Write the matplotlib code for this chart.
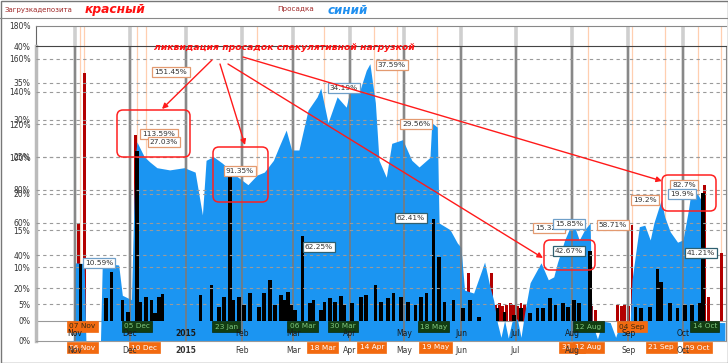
import matplotlib
matplotlib.use('Agg')
import matplotlib.pyplot as plt
import matplotlib.dates as mdates
from matplotlib.patches import FancyBboxPatch, Rectangle, FancyArrowPatch
from matplotlib.lines import Line2D
from matplotlib.transforms import Affine2D, blended_transform_factory
import datetime as dt

W, H = 728, 363

# ---------------- data ----------------
# drawdown (blue, inner scale 0-40 %)
dd_dates = ['2014-10-31', '2014-11-01', '2014-11-06', '2014-11-07', '2014-11-15', '2014-11-16',
            '2014-11-25', '2014-11-27', '2014-12-02', '2014-12-04', '2014-12-05', '2014-12-09',
            '2014-12-12', '2014-12-16', '2014-12-23', '2014-12-31', '2015-01-06', '2015-01-10',
            '2015-01-12', '2015-01-16', '2015-01-21', '2015-01-28', '2015-02-04', '2015-02-09',
            '2015-02-13', '2015-02-18', '2015-02-21', '2015-02-25', '2015-02-28', '2015-03-04',
            '2015-03-09', '2015-03-14', '2015-03-16', '2015-03-20', '2015-03-25', '2015-03-30',
            '2015-04-02', '2015-04-06', '2015-04-10', '2015-04-12', '2015-04-15', '2015-04-17',
            '2015-04-21', '2015-04-24', '2015-04-30', '2015-05-05', '2015-05-09', '2015-05-15',
            '2015-05-16', '2015-05-19', '2015-05-20', '2015-05-26', '2015-05-30', '2015-06-01',
            '2015-06-03', '2015-06-08', '2015-06-14', '2015-06-17', '2015-06-19', '2015-06-21',
            '2015-06-23', '2015-06-25', '2015-06-27', '2015-06-29', '2015-07-02', '2015-07-04',
            '2015-07-06', '2015-07-09', '2015-07-15', '2015-07-19', '2015-07-22', '2015-07-24',
            '2015-07-28', '2015-08-01', '2015-08-03', '2015-08-05', '2015-08-08', '2015-08-11',
            '2015-08-12', '2015-08-15', '2015-08-18', '2015-08-22', '2015-08-25', '2015-08-28',
            '2015-09-02', '2015-09-03', '2015-09-07', '2015-09-10', '2015-09-13', '2015-09-15',
            '2015-09-19', '2015-09-21', '2015-09-24', '2015-09-28', '2015-10-01', '2015-10-04',
            '2015-10-05', '2015-10-09', '2015-10-11', '2015-10-12', '2015-10-24']
dd_values = [0, 10.6, 10.5, 0, 0, 10.6,
             10.3, 6.2, 5.6, 24.5, 27.0, 25.0,
             24.3, 23.5, 23.2, 23.5, 22.9, 17.1,
             24.5, 25.0, 24.1, 22.5, 21.2, 22.5,
             22.9, 24.5, 26.3, 28.6, 25.9, 25.9,
             31.3, 33.1, 34.3, 29.6, 33.1, 31.7,
             35.0, 33.6, 36.7, 37.6, 32.3, 24.5,
             22.2, 26.8, 27.3, 24.5, 23.6, 24.9,
             29.6, 29.0, 16.0, 15.1, 13.3, 12.7,
             6.9, 6.5, 10.7, 7.3, 5.5, 2.5,
             0.5, 2.8, 0.4, 2.6, 3.0, 0.5,
             3.8, 7.9, 10.6, 8.3, 8.7, 10.6,
             13.7, 16.0, 15.1, 13.7, 15.1, 16.0,
             2.5, 0.3, 2.7, 2.5, 0.5, 2.8,
             2.7, 8.3, 15.5, 15.7, 13.7, 16.0,
             19.1, 16.8, 14.8, 13.4, 13.7, 17.8,
             19.5, 19.9, 19.1, 2.5, 2.5]

# deposit load (red bars, outer scale 0-180 %)
red_dates = ['2014-11-03', '2014-11-06', '2014-11-17', '2014-12-04', '2015-01-24',
             '2015-06-03', '2015-06-05', '2015-06-08', '2015-06-11', '2015-06-13', '2015-06-16',
             '2015-06-18', '2015-06-20', '2015-06-22', '2015-06-24', '2015-06-26', '2015-06-28',
             '2015-06-30', '2015-07-02', '2015-07-04', '2015-07-06', '2015-07-08',
             '2015-08-12', '2015-08-14', '2015-08-26', '2015-08-28', '2015-08-30', '2015-09-01',
             '2015-09-03', '2015-10-13', '2015-10-15', '2015-10-22']
red_values = [60, 151.45, 30, 113.59, 91.35,
              12, 29, 10, 8, 11, 9,
              29, 10, 11, 9, 10, 11,
              10, 9, 11, 10, 8,
              9, 7, 10, 9, 10, 9,
              58.71, 82.7, 14.6, 41.21]

# deposit load of the overlaid chart (black bars, outer scale)
blk_dates = ['2014-11-04', '2014-11-18', '2014-11-21', '2014-11-27', '2014-11-30',
             '2014-12-05', '2014-12-07', '2014-12-10', '2014-12-13', '2014-12-15', '2014-12-17', '2014-12-19',
             '2015-01-09', '2015-01-15', '2015-01-19', '2015-01-22', '2015-01-25', '2015-01-27', '2015-01-30',
             '2015-02-02', '2015-02-05', '2015-02-10', '2015-02-13', '2015-02-16', '2015-02-19', '2015-02-22',
             '2015-02-24', '2015-02-26', '2015-02-28',
             '2015-03-02', '2015-03-06', '2015-03-10', '2015-03-12', '2015-03-16', '2015-03-18', '2015-03-21',
             '2015-03-24', '2015-03-27', '2015-03-29',
             '2015-04-02', '2015-04-07', '2015-04-10', '2015-04-15', '2015-04-18', '2015-04-22', '2015-04-25',
             '2015-04-29',
             '2015-05-03', '2015-05-07', '2015-05-10', '2015-05-13', '2015-05-17', '2015-05-20', '2015-05-23',
             '2015-05-28',
             '2015-06-02', '2015-06-06', '2015-06-11', '2015-06-21', '2015-06-25', '2015-06-30',
             '2015-07-04', '2015-07-09', '2015-07-13', '2015-07-16', '2015-07-20', '2015-07-23', '2015-07-27',
             '2015-07-30',
             '2015-08-02', '2015-08-05', '2015-08-11',
             '2015-09-05', '2015-09-08', '2015-09-13', '2015-09-17', '2015-09-19', '2015-09-24', '2015-09-28',
             '2015-10-02', '2015-10-06', '2015-10-10', '2015-10-12']
blk_values = [35, 14, 30, 12.8, 5.5,
              104, 11.6, 14.6, 12.8, 4.9, 14.6, 16.5,
              15.9, 22, 8.5, 14.6, 89, 12.8, 14.6,
              9.8, 17, 8.5, 17, 25, 9.8, 15.9,
              12.8, 17.7, 9.8,
              6.7, 52, 11, 12.8, 6.7, 11.6, 14,
              11.6, 15.3, 9.8,
              11, 14.6, 15.9, 22, 11.6, 14, 17,
              14.6,
              11.6, 9.8, 14.6, 17, 62.41, 39, 11.6,
              12.8,
              7.9, 12.8, 2.4, 7.9, 5.5, 3.7,
              7.9, 4.9, 7.9, 7.9, 14, 9.8, 11,
              8.5,
              12.8, 11, 42.67,
              8.5, 7.9, 8.5, 32, 24, 11, 7.9,
              9.8, 9.8, 11, 78]

month_ticks = ['2014-11-01', '2014-12-01', '2015-01-01', '2015-02-01', '2015-03-01', '2015-04-01',
               '2015-05-01', '2015-06-01', '2015-07-01', '2015-08-01', '2015-09-01', '2015-10-01']
month_labels = ['Nov', 'Dec', '2015', 'Feb', 'Mar', 'Apr', 'May', 'Jun', 'Jul', 'Aug', 'Sep', 'Oct']

outer_ticks = [0, 20, 40, 60, 80, 100, 120, 140, 160, 180]
inner_ticks = [0, 5, 10, 15, 20, 25, 30, 35, 40]

orange_lines = ['2014-11-04', '2014-11-06', '2014-12-05', '2014-12-10', '2015-02-09', '2015-03-18',
                '2015-04-14', '2015-04-27', '2015-05-19', '2015-08-10', '2015-09-03', '2015-09-21',
                '2015-10-09', '2015-10-22']

outer_flag_labels = ['06 Nov', '10 Dec', '18 Mar', '14 Apr', '19 May', '31 Jul', '12 Aug', '21 Sep', '09 Oct']
outer_flag_dates = ['2014-11-05', '2014-12-09', '2015-03-17', '2015-04-13', '2015-05-18',
                    '2015-08-01', '2015-08-10', '2015-09-19', '2015-10-09']
inner_flag_labels = ['07 Nov', '05 Dec', '23 Jan', '06 Mar', '30 Mar', '18 May', '12 Aug', '04 Sep', '14 Oct']
inner_flag_dates = ['2014-11-05', '2014-12-05', '2015-01-23', '2015-03-06', '2015-03-28',
                    '2015-05-17', '2015-08-10', '2015-09-03', '2015-10-13']
inner_flag_orange = [True, False, False, False, False, False, False, True, False]


def D(s):
    return mdates.date2num(dt.datetime.strptime(s, '%Y-%m-%d'))


# ---------------- figure ----------------
fig = plt.figure(figsize=(W / 100, H / 100), dpi=100)
pix = Affine2D().scale(1 / W, -1 / H).translate(0, 1) + fig.transFigure

L, R = 36, 726
x0 = D('2014-11-01') - (75 - L) / 1.8204
x1 = D('2015-10-01') + (R - 683) / 1.8204


def rect(top, bottom):
    return [L / W, 1 - bottom / H, (R - L) / W, (bottom - top) / H]


ax1 = fig.add_axes(rect(26, 321))
ax2 = fig.add_axes(rect(46, 341))
ax3 = fig.add_axes(rect(26, 321))
for a in (ax1, ax2, ax3):
    a.set_xlim(x0, x1)
ax1.set_ylim(0, 180)
ax3.set_ylim(0, 180)
ax2.set_ylim(0, 40)
ax2.patch.set_visible(False)
ax3.patch.set_visible(False)
ax3.set_axis_off()
ax1.set_axisbelow(False)
ax2.set_axisbelow(False)

blue = '#1b95f2'
grid_c = '#9a9a9a'

# ---- back chart (deposit load) ----
for d in month_ticks:
    ax1.axvline(D(d), color='#cfcfcf', lw=2.6, zorder=0)
for d in orange_lines:
    ax1.axvline(D(d), color='#ffcfb0', lw=0.9, zorder=0.5)
ax1.bar([D(d) for d in red_dates], red_values, width=1.6, color='#b30000', zorder=2)
ax1.set_yticks(outer_ticks)
ax1.set_yticklabels([f'{v}%' for v in outer_ticks])
ax1.set_xticks([D(d) for d in month_ticks])
ax1.set_xticklabels(month_labels)
ax1.tick_params(axis='x', length=0, pad=18, labelsize=5.5, labelcolor='#333333')
ax1.tick_params(axis='y', length=0, pad=4, labelsize=5.5, labelcolor='#333333')
ax1.spines['right'].set_visible(False)
ax1.spines['left'].set_color('#666666')
ax1.spines['top'].set_color('#888888')
ax1.spines['bottom'].set_color('#999999')

# ---- front chart (drawdown) ----
ax2.fill_between([D(d) for d in dd_dates], 0, dd_values, color=blue, lw=0, zorder=1)
for d in month_ticks:
    ax2.axvline(D(d), color='#7a7a7a', lw=1.2, zorder=2)
ax2.set_yticks(inner_ticks)
ax2.set_yticklabels([f'{v}%' for v in inner_ticks])
ax2.set_xticks([D(d) for d in month_ticks])
ax2.set_xticklabels(month_labels)
ax2.tick_params(axis='x', length=0, pad=-9, labelsize=5.5, labelcolor='#1a1a1a')
ax2.tick_params(axis='y', length=0, pad=4, labelsize=5.5, labelcolor='#333333')
ax2.spines['left'].set_color('#bbbbbb')
ax2.spines['left'].set_linewidth(2.5)
ax2.spines['top'].set_color('#444444')
ax2.spines['bottom'].set_color('#999999')
ax2.spines['right'].set_color('#888888')
for v in inner_ticks[1:-1]:
    ax2.axhline(v, color=grid_c, lw=0.8, ls=(0, (3, 3)), zorder=2.2)
for a in (ax1, ax2):
    for lbl in a.get_xticklabels():
        if lbl.get_text() == '2015':
            lbl.set_fontweight('bold')

# black bars on top
ax3.bar([D(d) for d in blk_dates], blk_values, width=2.0, color='black', zorder=2)
for v in outer_ticks[1:-1]:
    ax3.axhline(v, color=grid_c, lw=0.8, ls=(0, (3, 3)), zorder=3)

# ---- flags (below the tick labels) ----
tr1 = blended_transform_factory(ax1.transData, pix)
for lab, d in zip(outer_flag_labels, outer_flag_dates):
    ax1.text(D(d), 347.5, lab, transform=tr1, ha='center', va='center', fontsize=5.3, color='white',
             bbox=dict(boxstyle='square,pad=0.35', fc='#f26a10', ec='#f26a10', lw=0.5),
             clip_on=False, zorder=2.4)
tr2 = blended_transform_factory(ax2.transData, pix)
for lab, d, org in zip(inner_flag_labels, inner_flag_dates, inner_flag_orange):
    fc = '#f26a10' if org else '#123d12'
    tc = '#3a2a10' if org else '#80c880'
    ax2.text(D(d), 326.5, lab, transform=tr2, ha='center', va='center', fontsize=5.3, color=tc,
             bbox=dict(boxstyle='square,pad=0.3', fc=fc, ec='#0a2a0a' if not org else fc, lw=0.5),
             clip_on=False, zorder=2.4)

# ---- value labels ----
val_labels = [('151.45%', 171, 72, '#e39a70'), ('113.59%', 159, 134, '#e39a70'),
              ('27.03%', 164, 142, '#e39a70'), ('10.59%', 99, 263, '#6f9fc8'),
              ('91.35%', 240, 171, '#e39a70'), ('34.19%', 344, 88, '#6f9fc8'),
              ('37.59%', 392, 65, '#e39a70'), ('29.56%', 416, 124, '#e39a70'),
              ('62.25%', 319, 247, '#2f6070'), ('62.41%', 411, 218, '#2f6070'),
              ('15.32%', 549, 228, '#e39a70'), ('15.85%', 569, 224, '#6f9fc8'),
              ('42.67%', 569, 251, '#2f6070'), ('58.71%', 613, 225, '#e39a70'),
              ('19.2%', 645, 200, '#e39a70'), ('82.7%', 684, 185, '#e39a70'),
              ('19.9%', 682, 194, '#6f9fc8'), ('41.21%', 701, 253, '#2f6070')]
for s, x, y, ec in val_labels:
    fig.text(x, y, s, transform=pix, ha='center', va='center', fontsize=5.3, color='#333333',
             bbox=dict(boxstyle='square,pad=0.3', fc='white', ec=ec, lw=0.9), zorder=20)

# ---- header ----
fig.add_artist(Line2D([0, W], [18, 18], transform=pix, color='#888888', lw=0.8))
fig.add_artist(Rectangle((0.5, 0.5), W - 1, H - 1, transform=pix, fill=False, ec='#777777', lw=1))
fig.text(5, 10, 'Загрузкадепозита', transform=pix, ha='left', va='center', fontsize=5.0, color='#a02828')
fig.text(85, 9, 'красный', transform=pix, ha='left', va='center', fontsize=8.8, color='#ff1010',
         fontstyle='italic', fontweight='bold')
fig.text(277, 9, 'Просадка', transform=pix, ha='left', va='center', fontsize=5.2, color='#a02828')
fig.text(328, 11, 'синий', transform=pix, ha='left', va='center', fontsize=8.6, color='#2090f0',
         fontstyle='italic', fontweight='bold')

# ---- annotation ----
fig.text(284, 48, 'ликвидация просадок спекулятивной нагрузкой', transform=pix, ha='center', va='center',
         fontsize=6.7, color='#ff1010', fontstyle='italic', fontweight='bold', zorder=30)
boxes = [(117, 110, 190, 157), (213, 147, 268, 202), (544, 240, 595, 270), (662, 175, 716, 211)]
for xa, ya, xb, yb in boxes:
    fig.add_artist(FancyBboxPatch((xa, ya), xb - xa, yb - ya, boxstyle='round,pad=0,rounding_size=6',
                                  transform=pix, fill=False, ec='#ff2020', lw=1.1, zorder=30))
arrows = [((212, 60), (162, 109)), ((220, 64), (245, 145)), ((228, 64), (543, 258)), ((243, 57), (662, 181))]
for a, b in arrows:
    fig.add_artist(FancyArrowPatch(a, b, transform=pix, arrowstyle='-|>', mutation_scale=8,
                                   color='#ff1a1a', lw=1.0, zorder=30, shrinkA=0, shrinkB=0))

fig.savefig('out.png', dpi=100)
